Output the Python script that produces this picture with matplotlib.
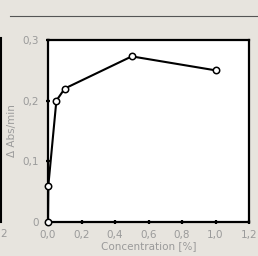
import matplotlib
matplotlib.use("Agg")
import matplotlib.pyplot as plt
from matplotlib.lines import Line2D

# data
conc = [0.0, 0.002, 0.05, 0.1, 0.5, 1.0]
dabs = [0.0, 0.06, 0.2, 0.22, 0.273, 0.25]
xticks = [0.0, 0.2, 0.4, 0.6, 0.8, 1.0, 1.2]
xlabels = ["0,0", "0,2", "0,4", "0,6", "0,8", "1,0", "1,2"]
yticks = [0.0, 0.1, 0.2, 0.3]
ylabels = ["0", "0,1", "0,2", "0,3"]

bg = "#e7e4de"
grey = "#9a9a9a"
plt.rcParams['font.family'] = ['Liberation Sans Narrow', 'DejaVu Sans']

fig = plt.figure(figsize=(2.58, 2.56), dpi=100, facecolor=bg)
ax = fig.add_axes([48 / 258, 1 - 222 / 256, 201 / 258, 182 / 256])
ax.set_facecolor("white")

ax.plot(conc, dabs, color="black", lw=1.5, marker="o", ms=4.6,
        mfc="white", mec="black", mew=1.1, clip_on=False, zorder=5)

ax.set_xlim(0, 1.2)
ax.set_ylim(0, 0.3)
ax.set_xticks(xticks)
ax.set_xticklabels(xlabels)
ax.set_yticks(yticks)
ax.set_yticklabels(ylabels)
for s in ax.spines.values():
    s.set_linewidth(1.6)
ax.tick_params(direction="inout", length=3, width=1.6, colors="black",
               labelcolor=grey, labelsize=7.5)
ax.tick_params(axis="x", pad=4)
ax.tick_params(axis="y", pad=5)
ax.set_xlabel("Concentration [%]", color=grey, fontsize=7.5, labelpad=1)
ax.set_ylabel("Δ Abs/min", color=grey, fontsize=7.5, labelpad=4)

# decorations from the slide around the chart
fig.add_artist(Line2D([10 / 258, 1], [1 - 16 / 256] * 2, color="#555555", lw=0.8))
fig.add_artist(Line2D([1 / 258] * 2, [1 - 38 / 256, 1 - 222 / 256], color="black", lw=1.5))
fig.text(0, 1 - 234 / 256, "2", ha="left", va="center", color=grey, fontsize=7.5)

fig.savefig("out.png", dpi=100, facecolor=bg)
